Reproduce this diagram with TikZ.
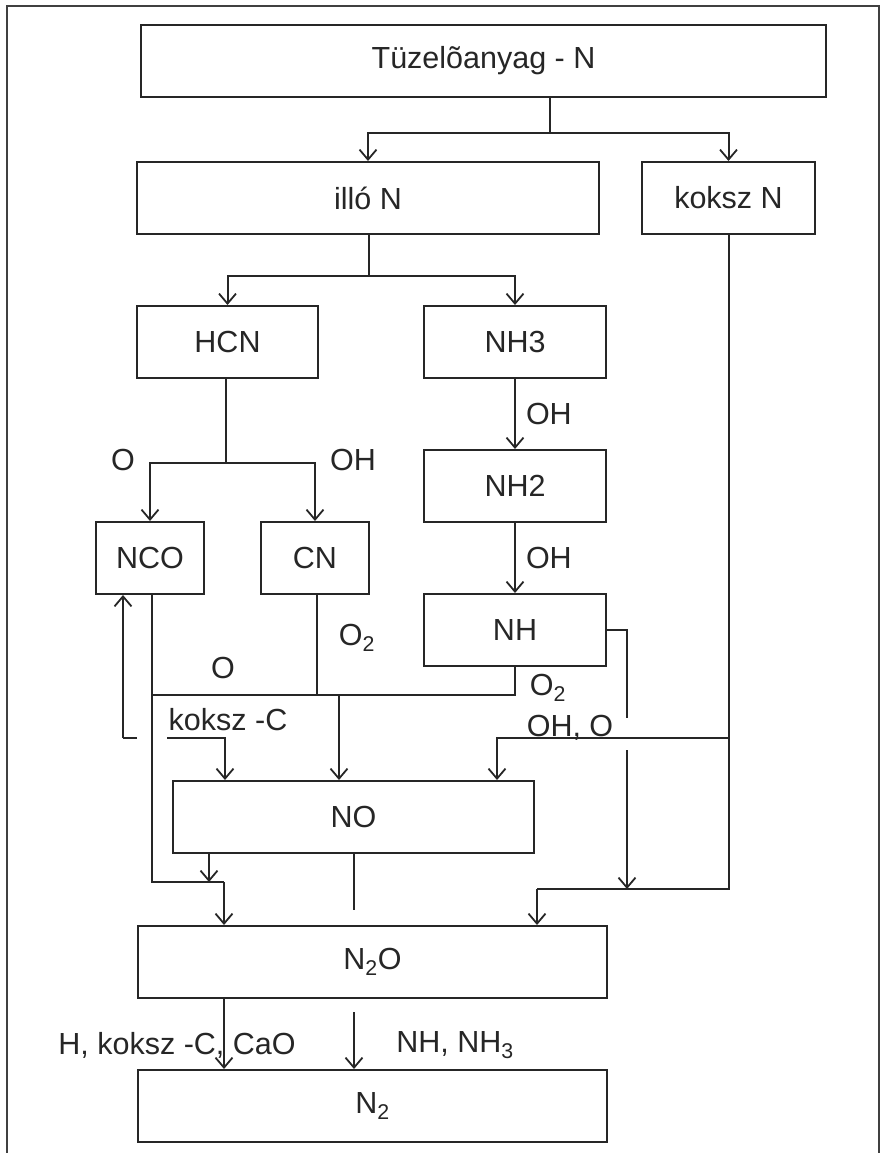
\documentclass[tikz,border=0pt]{standalone}
\usepackage{fontspec}
\setmainfont{Liberation Sans}
\usetikzlibrary{arrows.meta}

\begin{document}
\begin{tikzpicture}[x=1pt,y=-1pt,
       every node/.style={font=\fontsize{30.5}{36}\selectfont,text=black!85},
       box/.style={draw=black!85,line width=2pt,inner sep=0pt,minimum height=72pt},
       flow/.style={draw=black!85,line width=2pt},
       arr/.style={flow,-{Straight Barb[length=10pt,width=17pt,line width=1.8pt]}},
       lbl/.style={inner sep=0pt}]
    \useasboundingbox (0,0) rectangle (885,1153);
    % frame
    \draw[line width=2pt,black!75] (7,1153) -- (7,6) -- (879,6) -- (879,1153);
    % boxes
    \node[box,minimum width=685pt] (fuel)  at (483.5,61)   {Tüzelõanyag - N};
    \node[box,minimum width=462pt] (illo)  at (368,198)    {illó N};
    \node[box,minimum width=173pt] (koksz) at (728.5,198)  {koksz N};
    \node[box,minimum width=181pt] (hcn)   at (227.5,342)  {HCN};
    \node[box,minimum width=182pt] (nhiii) at (515,342)    {NH3};
    \node[box,minimum width=108pt] (nco)   at (150,558)    {NCO};
    \node[box,minimum width=108pt] (cn)    at (315,558)    {CN};
    \node[box,minimum width=182pt] (nhii)  at (515,486)    {NH2};
    \node[box,minimum width=182pt] (nh)    at (515,630)    {NH};
    \node[box,minimum width=361pt] (no)    at (353.5,817)  {NO};
    \node[box,minimum width=469pt] (ntwoo) at (372.5,962)  {N\textsubscript{2}O};
    \node[box,minimum width=469pt] (ntwo)  at (372.5,1106) {N\textsubscript{2}};
    % junctions
    \coordinate (jtop)  at (550,133);
    \coordinate (jillo) at (369,276);
    \coordinate (jhcn)  at (226,463);
    \coordinate (jno)   at (339,695);
    \coordinate (jleft) at (152,695);
    \coordinate (jnh)   at (515,695);
    \coordinate (fbend) at (137,738);
    \coordinate (fb)    at (123,738);
    \coordinate (kc)    at (167,738);
    \coordinate (kcx)   at (225,738);
    \coordinate (jright) at (728,738);
    \coordinate (jrno)  at (497,738);
    \coordinate (nhr)   at (627,630);
    \coordinate (nhgap) at (627,718);
    \coordinate (nhgo)  at (627,750);
    \coordinate (jbot)  at (728,889);
    \coordinate (jbn)   at (627,889);
    \coordinate (jbl)   at (537,889);
    \coordinate (jnco)  at (152,882);
    \coordinate (jnox)  at (209,882);
    \coordinate (jncox) at (224,882);
    \coordinate (nomid) at (354,910);
    \coordinate (nnmid) at (354,1012);
    % fuel N
    \draw[flow] (fuel.south -| jtop) -- (jtop);
    \draw[arr] (jtop) -| (illo.north);
    \draw[arr] (jtop) -| (koksz.north);
    % volatile N
    \draw[flow] (illo.south -| jillo) -- (jillo);
    \draw[arr] (jillo) -| (hcn.north);
    \draw[arr] (jillo) -| (nhiii.north);
    % HCN
    \draw[flow] (hcn.south -| jhcn) -- (jhcn);
    \draw[arr] (jhcn) -| (nco.north);
    \draw[arr] (jhcn) -| (cn.north);
    \node[lbl] at (123,460) {O};
    \node[lbl] at (353,460) {OH};
    % NH3 -> NH2 -> NH
    \draw[arr] (nhiii) -- node[lbl,right=10pt] {OH} (nhii);
    \draw[arr] (nhii) -- node[lbl,right=10pt] {OH} (nh);
    % to NO
    \draw[flow] (nco.south -| jleft) -- (jnco) -- (jncox);
    \draw[arr] (jncox) -- (ntwoo.north -| jncox);
    \draw[flow] (cn.south -| jno) ++(-22,0) -- ++(0,101);
    \draw[flow] (nh.south) -- (jnh) -- (jleft);
    \draw[arr] (jno) -- (no.north -| jno);
    \draw[flow] (fbend) -- (fb);
    \draw[arr] (fb) -- (nco.south -| fb);
    \draw[arr] (kc) -- (kcx) -- (no.north -| kcx);
    \node[lbl] at (223,668) {O};
    \node[lbl] at (357,638) {O\textsubscript{2}};
    \node[lbl] at (548,688) {O\textsubscript{2}};
    \node[lbl] at (228,720) {koksz -C};
    \node[lbl] at (570,728) {OH, O};
    % char N
    \draw[flow] (koksz.south) -- (koksz.south |- jbot) -- (jbl);
    \draw[arr] (jbl) -- (ntwoo.north -| jbl);
    \draw[arr] (jright) -- (jrno) -- (no.north -| jrno);
    \draw[flow] (nh.east) -- (nhr) -- (nhgap);
    \draw[arr] (nhgo) -- (jbn);
    % NO -> N2O
    \draw[arr] (no.south -| jnox) -- (jnox);
    \draw[flow] (no.south -| nomid) -- (nomid);
    % N2O -> N2
    \draw[arr] (ntwoo.south -| jncox) -- (ntwo.north -| jncox);
    \draw[arr] (nnmid) -- (ntwo.north -| nnmid);
    \node[lbl] at (177,1045) {H, koksz -C, CaO};
    \node[lbl] at (455,1045) {NH, NH\textsubscript{3}};
\end{tikzpicture}
\end{document}
